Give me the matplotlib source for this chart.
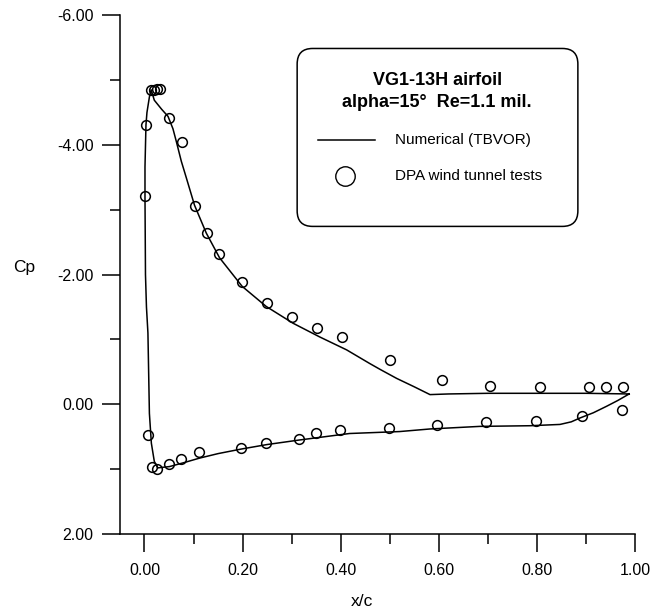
import matplotlib
matplotlib.use("Agg")
import matplotlib.pyplot as plt
from matplotlib.patches import FancyBboxPatch
from matplotlib.ticker import MultipleLocator, FormatStrFormatter

plt.rcParams['font.family'] = ['Liberation Sans', 'DejaVu Sans']
plt.rcParams['axes.unicode_minus'] = False

# numerical (TBVOR) curve, upper surface TE -> LE, then lower surface LE -> TE
x_num = [0.988, 0.90, 0.80, 0.70, 0.62, 0.582, 0.55, 0.514, 0.48, 0.459,
         0.412, 0.357, 0.303, 0.248, 0.199, 0.153, 0.126, 0.102, 0.085, 0.075,
         0.065, 0.058, 0.048, 0.035, 0.020, 0.0136, 0.010, 0.005, 0.003, 0.001,
         0.001, 0.002, 0.004, 0.007, 0.010, 0.014, 0.020, 0.027,
         0.051, 0.08, 0.112, 0.15, 0.197, 0.25, 0.316, 0.418, 0.52, 0.582,
         0.684, 0.786, 0.847, 0.87, 0.888, 0.915, 0.942, 0.965, 0.988]
cp_num = [-0.16, -0.17, -0.17, -0.17, -0.16, -0.15, -0.27, -0.40, -0.54, -0.63,
          -0.84, -1.04, -1.25, -1.51, -1.82, -2.26, -2.64, -3.07, -3.50, -3.75,
          -4.05, -4.25, -4.44, -4.55, -4.69, -4.85, -4.74, -4.50, -4.31, -3.66,
          -3.20, -2.00, -1.50, -1.10, 0.14, 0.60, 0.88, 0.98,
          0.96, 0.90, 0.83, 0.76, 0.69, 0.62, 0.55, 0.45, 0.42, 0.38,
          0.34, 0.33, 0.31, 0.27, 0.21, 0.13, 0.03, -0.06, -0.16]

# DPA wind tunnel tests
x_up = [0.001, 0.003, 0.013, 0.019, 0.025, 0.031, 0.050, 0.077, 0.103, 0.127,
        0.151, 0.199, 0.250, 0.301, 0.352, 0.403, 0.500, 0.607, 0.704, 0.806,
        0.907, 0.941, 0.976]
cp_up = [-3.21, -4.31, -4.84, -4.85, -4.86, -4.87, -4.41, -4.05, -3.06, -2.64,
         -2.32, -1.88, -1.57, -1.35, -1.18, -1.04, -0.69, -0.38, -0.29, -0.27,
         -0.27, -0.27, -0.27]
x_lo = [0.007, 0.015, 0.026, 0.050, 0.075, 0.112, 0.197, 0.248, 0.314, 0.349,
        0.399, 0.498, 0.597, 0.697, 0.798, 0.892, 0.974]
cp_lo = [0.47, 0.96, 1.00, 0.92, 0.84, 0.74, 0.67, 0.60, 0.53, 0.44,
         0.39, 0.36, 0.32, 0.27, 0.26, 0.18, 0.09]

fig = plt.figure(figsize=(6.52, 6.11), dpi=100)
ax = fig.add_axes([0.184, 0.126, 0.790, 0.849])

ax.plot(x_num, cp_num, color='black', lw=1.1)
ax.plot(x_up + x_lo, cp_up + cp_lo, 'o', ms=7, mfc='none', mec='black', mew=1.1)

ax.set_xlim(-0.05, 1.0)
ax.set_ylim(2.0, -6.0)
ax.xaxis.set_major_locator(MultipleLocator(0.2))
ax.xaxis.set_minor_locator(MultipleLocator(0.1))
ax.yaxis.set_major_locator(MultipleLocator(2.0))
ax.yaxis.set_minor_locator(MultipleLocator(1.0))
ax.xaxis.set_major_formatter(FormatStrFormatter('%.2f'))
ax.yaxis.set_major_formatter(FormatStrFormatter('%.2f'))

for s in ['top', 'right']:
    ax.spines[s].set_visible(False)
for s in ['left', 'bottom']:
    ax.spines[s].set_linewidth(1.1)
ax.tick_params(which='major', length=13, width=1.1, labelsize=11.5)
ax.tick_params(which='minor', length=7, width=1.1)
ax.tick_params(axis='x', which='major', pad=8)
ax.tick_params(axis='y', which='major', pad=6)

ax.set_xlabel('x/c', fontsize=12.5)
ax.set_ylabel('Cp', fontsize=12.5, rotation=0)
ax.xaxis.set_label_coords(0.47, -0.115)
ax.yaxis.set_label_coords(-0.186, 0.50)

# legend box drawn by hand
box = FancyBboxPatch((0.344, 0.593), 0.545, 0.343,
                     boxstyle='round,pad=0,rounding_size=0.03',
                     transform=ax.transAxes, fc='white', ec='black', lw=1.1,
                     clip_on=False, zorder=3)
ax.add_patch(box)
ax.text(0.616, 0.875, 'VG1-13H airfoil', transform=ax.transAxes, ha='center',
        va='center', fontsize=13, fontweight='bold', zorder=4)
ax.text(0.616, 0.832, 'alpha=15°  Re=1.1 mil.', transform=ax.transAxes,
        ha='center', va='center', fontsize=13, fontweight='bold', zorder=4)
ax.plot([0.384, 0.495], [0.759, 0.759], color='black', lw=1.1,
        transform=ax.transAxes, clip_on=False, zorder=4)
ax.text(0.534, 0.759, 'Numerical (TBVOR)', transform=ax.transAxes,
        va='center', fontsize=11, zorder=4)
ax.plot([0.437], [0.690], 'o', ms=14, mfc='none', mec='black', mew=1.0,
        transform=ax.transAxes, clip_on=False, zorder=4)
ax.text(0.534, 0.690, 'DPA wind tunnel tests', transform=ax.transAxes,
        va='center', fontsize=11, zorder=4)

fig.savefig('out.png', dpi=100)
